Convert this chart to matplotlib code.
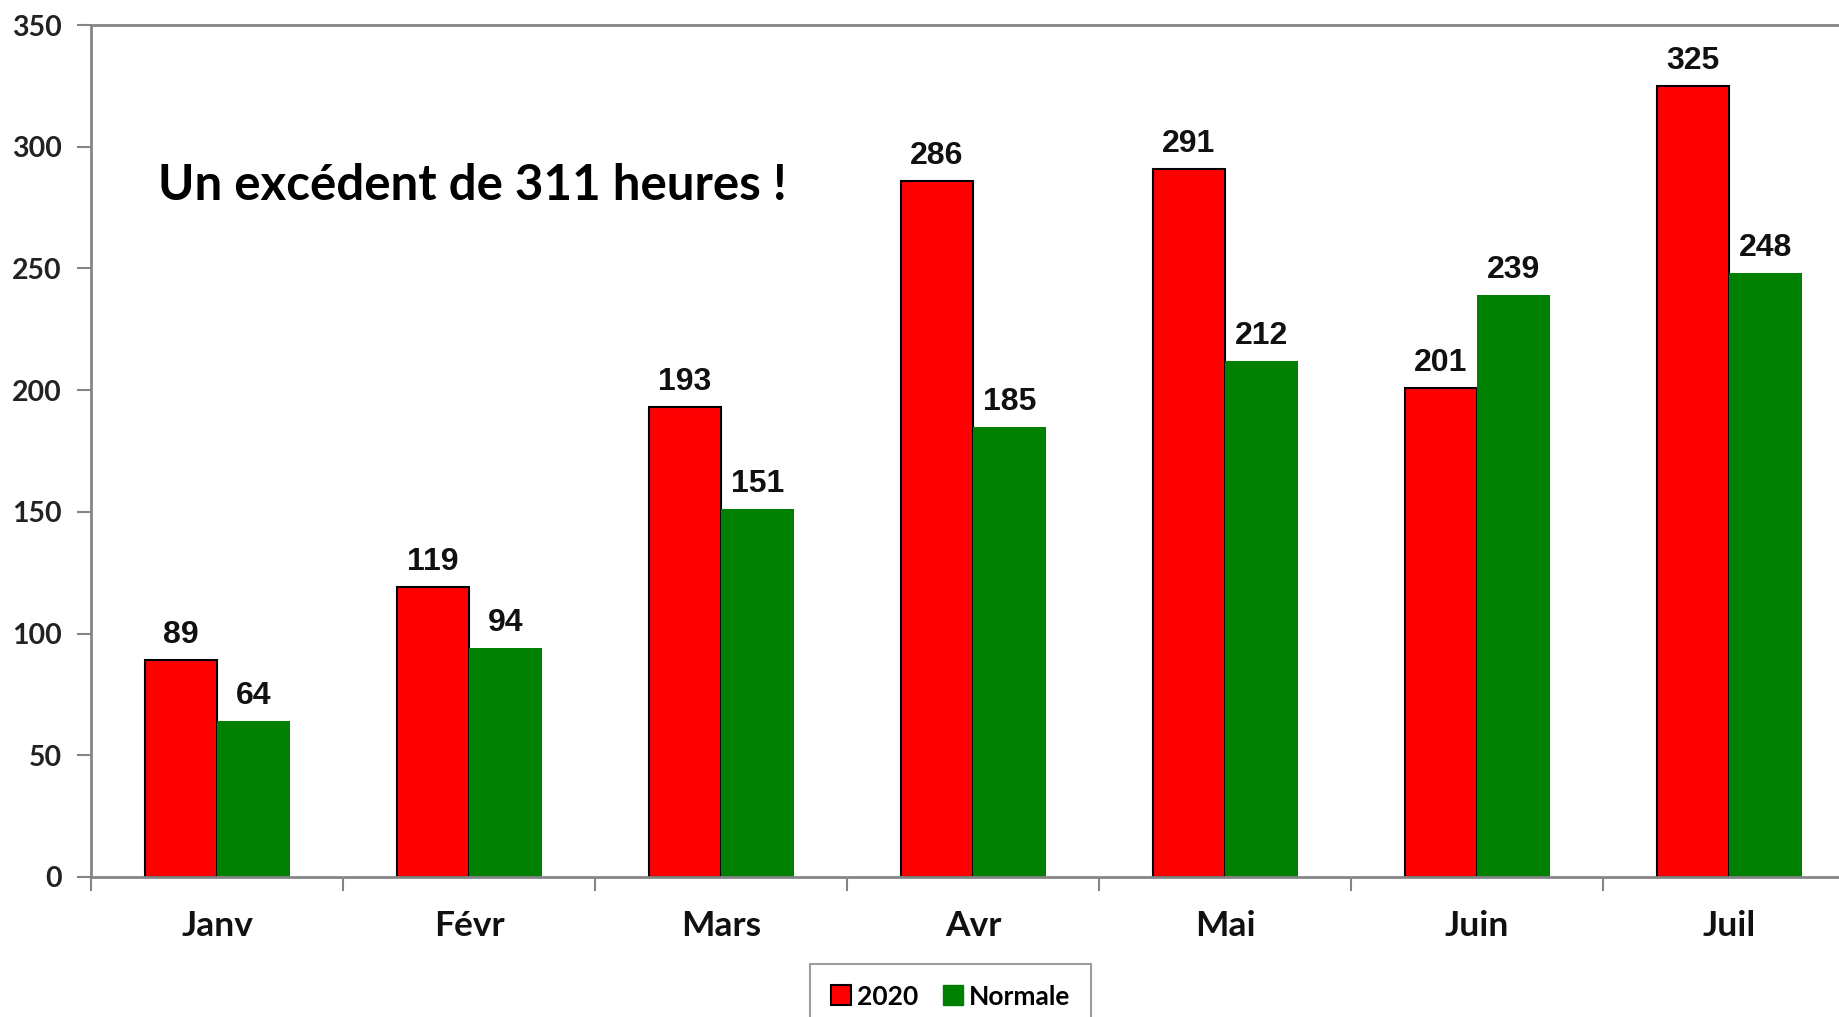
import matplotlib.pyplot as plt
from matplotlib.lines import Line2D
import numpy as np

# Data
months = ['Janv', 'Févr', 'Mars', 'Avr', 'Mai', 'Juin', 'Juil']
hours_2020 = [89, 119, 193, 286, 291, 201, 325]
hours_normale = [64, 94, 151, 185, 212, 239, 248]
y_ticks = [0, 50, 100, 150, 200, 250, 300, 350]

red = '#ff0000'
green = '#008000'
axis_grey = '#858585'

fig = plt.figure(figsize=(18.4, 10.17), dpi=100)
ax = fig.add_axes([0.0495, 0.1377, 0.9587, 0.8377])

x = np.arange(len(months))
w = 0.288

bars_red = ax.bar(x - w / 2, hours_2020, w, color=red, edgecolor='black',
                  linewidth=1.5, zorder=2)
bars_green = ax.bar(x + w / 2, hours_normale, w, color=green, linewidth=0,
                    zorder=2)

# Value labels above bars
for bars, vals in [(bars_red, hours_2020), (bars_green, hours_normale)]:
    for b, v in zip(bars, vals):
        ax.annotate(str(v), (b.get_x() + b.get_width() / 2, v),
                    xytext=(0, 10), textcoords='offset pixels',
                    ha='center', va='bottom', fontsize=23, fontweight='bold',
                    family='Liberation Sans', color='#111111')

# Axes limits
ax.set_xlim(-0.5, len(months) - 0.5)
ax.set_ylim(0, 350)

# Y axis
ax.set_yticks(y_ticks)
ax.set_yticklabels([str(t) for t in y_ticks], fontsize=20.5, family='Lato',
                   fontweight='bold', color='#222222')
ax.tick_params(axis='y', direction='out', length=10, width=1.5,
               color=axis_grey, pad=11)

# X axis: ticks at category boundaries, labels at centres
ax.set_xticks(np.arange(len(months) + 1) - 0.5)
ax.set_xticklabels([])
ax.set_xticks(x, minor=True)
ax.set_xticklabels(months, minor=True, fontsize=25.5, family='Lato',
                   fontweight='bold', color='#111111')
ax.tick_params(axis='x', which='major', direction='out', length=10,
               width=1.5, color=axis_grey)
ax.tick_params(axis='x', which='minor', length=0, pad=24)

for side in ['left', 'bottom', 'top', 'right']:
    ax.spines[side].set_color(axis_grey)
    ax.spines[side].set_linewidth(2)

# Annotation text
ax.text(0.038, 0.812, 'Un excédent de 311 heures !', transform=ax.transAxes,
        fontsize=35.5, fontweight='bold', family='Lato', ha='left',
        va='center', color='black')

# Legend
handles = [
    Line2D([], [], marker='s', linestyle='none', markersize=14,
           markerfacecolor=red, markeredgecolor='black', markeredgewidth=1.5,
           label='2020'),
    Line2D([], [], marker='s', linestyle='none', markersize=14,
           markerfacecolor=green, markeredgecolor=green, label='Normale'),
]
leg = fig.legend(handles=handles, loc='upper center', ncol=2,
                 bbox_to_anchor=(0.5165, 0.0525), frameon=True, fancybox=False,
                 handlelength=0.8, handletextpad=0.2, columnspacing=0.9,
                 borderpad=0.8, borderaxespad=0,
                 prop={'family': 'Lato', 'weight': 'bold', 'size': 19})
leg.get_frame().set_edgecolor(axis_grey)
leg.get_frame().set_linewidth(1.5)

fig.savefig('out.png', dpi=100)
